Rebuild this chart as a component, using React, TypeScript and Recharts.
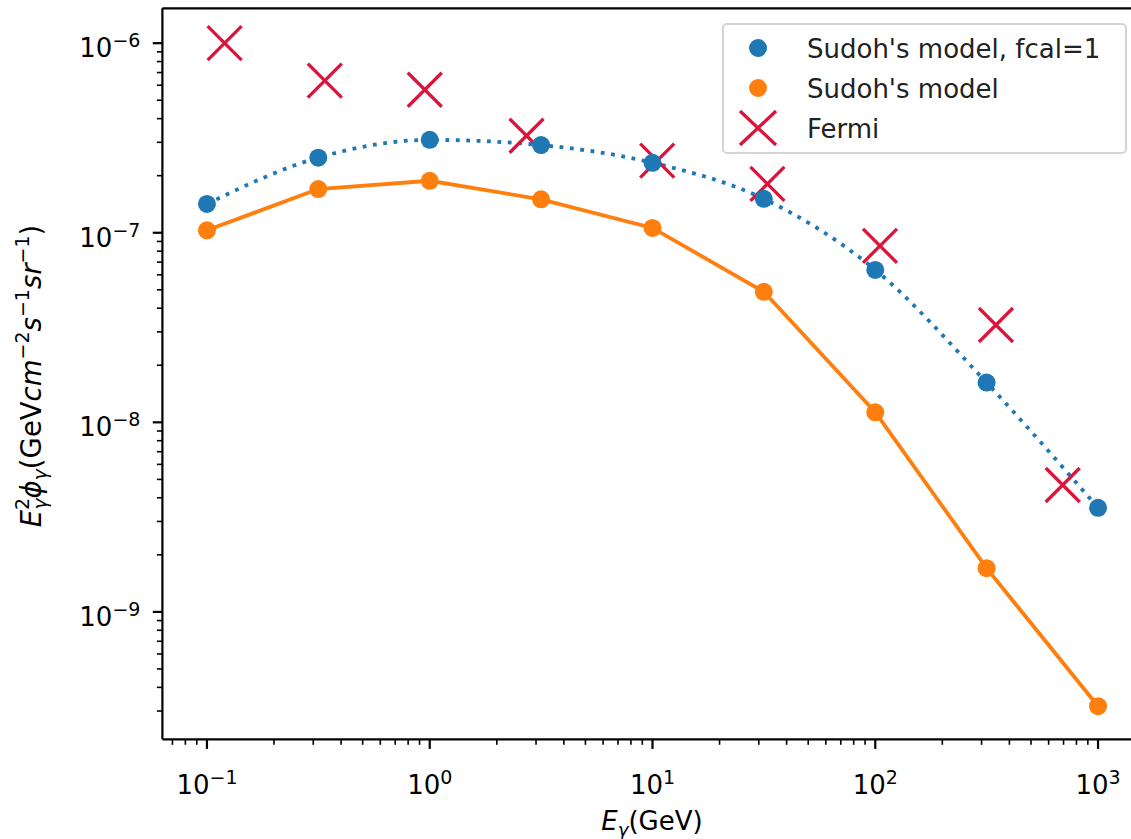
import React from "react";
import {
  ComposedChart,
  Line,
  Scatter,
  XAxis,
  YAxis,
  Legend,
  ReferenceLine,
} from "recharts";

// energies (GeV) of the model points
const energies = [0.1, 0.316, 1, 3.16, 10, 31.6, 100, 316, 1000];
// Sudoh's model, fcal=1
const sudohFcal1 = [1.42e-7, 2.49e-7, 3.09e-7, 2.9e-7, 2.34e-7, 1.51e-7, 6.37e-8, 1.62e-8, 3.54e-9];
// Sudoh's model
const sudoh = [1.03e-7, 1.7e-7, 1.88e-7, 1.5e-7, 1.06e-7, 4.88e-8, 1.13e-8, 1.7e-9, 3.18e-10];
// Fermi points
const fermiEnergies = [0.12, 0.338, 0.95, 2.72, 10.5, 32.8, 105, 348, 694];
const fermiFlux = [1.0e-6, 6.34e-7, 5.68e-7, 3.25e-7, 2.4e-7, 1.81e-7, 8.53e-8, 3.26e-8, 4.67e-9];

const xMajor = [0.1, 1, 10, 100, 1000];
const yMajor = [1e-9, 1e-8, 1e-7, 1e-6];

const X_DOMAIN = [Math.pow(10, -1.2), Math.pow(10, 3.2)];
const Y_DOMAIN = [Math.pow(10, -9.672), Math.pow(10, -5.816)];

const BLUE = "#1f77b4";
const ORANGE = "#ff7f0e";
const RED = "#dc143c";
const FONT = "DejaVu Sans";

const fcalData = energies.map((x, i) => ({ x, y: sudohFcal1[i] }));
const sudohData = energies.map((x, i) => ({ x, y: sudoh[i] }));
const fermiData = fermiEnergies.map((x, i) => ({ x, y: fermiFlux[i] }));

// major + minor log ticks inside a domain
function logTicks(majors: number[], domain: number[]) {
  const out: number[] = [];
  const decades = [majors[0] / 10, ...majors];
  decades.forEach((d) => {
    for (let m = 1; m <= 9; m++) {
      const v = d * m;
      if (v >= domain[0] && v <= domain[1]) out.push(v);
    }
  });
  return out;
}

const xTicks = logTicks(xMajor, X_DOMAIN);
const yTicks = logTicks(yMajor, Y_DOMAIN);

function isMajor(v: number) {
  const lg = Math.log10(v);
  return Math.abs(lg - Math.round(lg)) < 1e-6;
}

function expLabel(v: number) {
  const e = Math.round(Math.log10(v));
  return e < 0 ? `\u2212${-e}` : `${e}`;
}

const XTick = (props: any) => {
  const { x, y, payload } = props;
  const major = isMajor(payload.value);
  return (
    <g>
      <line x1={x} x2={x} y1={y} y2={y + (major ? 9.6 : 5.5)} stroke="#000" strokeWidth={major ? 2.2 : 1.6} />
      {major && (
        <text x={x} y={y + 55} textAnchor="middle" fontSize={26} fontFamily={FONT} fill="#000">
          <tspan>10</tspan>
          <tspan dy={-10} fontSize={19}>{expLabel(payload.value)}</tspan>
        </text>
      )}
    </g>
  );
};

const YTick = (props: any) => {
  const { x, y, payload } = props;
  const major = isMajor(payload.value);
  return (
    <g>
      <line x1={x - (major ? 9.6 : 5.5)} x2={x} y1={y} y2={y} stroke="#000" strokeWidth={major ? 2.2 : 1.6} />
      {major && (
        <text x={x - 22} y={y + 14} textAnchor="end" fontSize={26} fontFamily={FONT} fill="#000">
          <tspan>10</tspan>
          <tspan dy={-10} fontSize={19}>{expLabel(payload.value)}</tspan>
        </text>
      )}
    </g>
  );
};

const CrossShape = (props: any) => {
  const { cx, cy } = props;
  const h = 17;
  return (
    <g stroke={RED} strokeWidth={3.3}>
      <line x1={cx - h} y1={cy - h} x2={cx + h} y2={cy + h} />
      <line x1={cx - h} y1={cy + h} x2={cx + h} y2={cy - h} />
    </g>
  );
};

const XLabel = () => (
  <text x={652} y={830} textAnchor="middle" fontSize={26} fontFamily={FONT} fill="#000">
    <tspan fontStyle="italic">E</tspan>
    <tspan dy={6} fontSize={18} fontStyle="italic">γ</tspan>
    <tspan dy={-6}>(GeV)</tspan>
  </text>
);

const YLabel = () => (
  <text
    transform="translate(41,376) rotate(-90)"
    textAnchor="middle"
    fontSize={27.5}
    fontFamily={FONT}
    fill="#000"
  >
    <tspan fontStyle="italic">E</tspan>
    <tspan dy={-12} fontSize={19}>2</tspan>
    <tspan dx={-12} dy={18} fontSize={19} fontStyle="italic">γ</tspan>
    <tspan dy={-6} fontStyle="italic">ϕ</tspan>
    <tspan dy={6} fontSize={19} fontStyle="italic">γ</tspan>
    <tspan dy={-6}>(GeV</tspan>
    <tspan fontStyle="italic">cm</tspan>
    <tspan dy={-12} fontSize={19}>−2</tspan>
    <tspan dy={12} fontStyle="italic">s</tspan>
    <tspan dy={-12} fontSize={19}>−1</tspan>
    <tspan dy={12} fontStyle="italic">sr</tspan>
    <tspan dy={-12} fontSize={19}>−1</tspan>
    <tspan dy={12}>)</tspan>
  </text>
);

const legendItems = [
  { name: "Sudoh's model, fcal=1", kind: "dot", color: BLUE },
  { name: "Sudoh's model", kind: "dot", color: ORANGE },
  { name: "Fermi", kind: "cross", color: RED },
];

const LegendBox = () => (
  <div
    style={{
      width: 405,
      height: 131,
      boxSizing: "border-box",
      border: "2px solid #d4d4d4",
      borderRadius: 5,
      background: "rgba(255,255,255,0.8)",
    }}
  >
    <svg width={401} height={127} style={{ display: "block" }}>
      {legendItems.map((it, i) => {
        const cy = 23 + i * 40;
        return (
          <g key={it.name}>
            {it.kind === "dot" ? (
              <circle cx={34} cy={cy} r={9} fill={it.color} />
            ) : (
              <g stroke={it.color} strokeWidth={3.3}>
                <line x1={16} y1={cy - 17} x2={52} y2={cy + 17} />
                <line x1={16} y1={cy + 17} x2={52} y2={cy - 17} />
              </g>
            )}
            <text x={83} y={cy + 9.5} fontSize={26} fontFamily={FONT} fill="#222">
              {it.name}
            </text>
          </g>
        );
      })}
    </svg>
  </div>
);

export default function App() {
  return (
    <div style={{ position: "absolute", left: 0, top: 0, width: 1131, height: 839, overflow: "hidden", background: "#fff" }}>
      <ComposedChart
        width={1150}
        height={839}
        margin={{ top: 8.3, right: 7.4, bottom: 0, left: 0 }}
      >
        <XAxis
          dataKey="x"
          type="number"
          scale="log"
          domain={X_DOMAIN}
          allowDataOverflow
          ticks={xTicks}
          interval={0}
          tick={<XTick />}
          tickLine={false}
          tickSize={0}
          tickMargin={0}
          height={99.7}
          axisLine={{ stroke: "#000", strokeWidth: 2.2 }}
          label={<XLabel />}
        />
        <YAxis
          dataKey="y"
          type="number"
          scale="log"
          domain={Y_DOMAIN}
          allowDataOverflow
          ticks={yTicks}
          interval={0}
          tick={<YTick />}
          tickLine={false}
          tickSize={0}
          tickMargin={0}
          width={162.4}
          axisLine={{ stroke: "#000", strokeWidth: 2.2 }}
          label={<YLabel />}
        />
        <ReferenceLine y={Y_DOMAIN[1]} stroke="#000" strokeWidth={2.2} />
        <ReferenceLine x={X_DOMAIN[1]} stroke="#000" strokeWidth={2.2} />
        <Line
          data={fcalData}
          dataKey="y"
          type="monotone"
          stroke={BLUE}
          strokeWidth={3.8}
          strokeDasharray="3.8 6.6"
          dot={{ r: 9, fill: BLUE, stroke: "none" }}
          activeDot={false}
          isAnimationActive={false}
        />
        <Line
          data={sudohData}
          dataKey="y"
          type="linear"
          stroke={ORANGE}
          strokeWidth={3.8}
          dot={{ r: 9, fill: ORANGE, stroke: "none" }}
          activeDot={false}
          isAnimationActive={false}
        />
        <Scatter data={fermiData} dataKey="y" shape={<CrossShape />} isAnimationActive={false} />
        <Legend
          layout="horizontal"
          verticalAlign="middle"
          align="center"
          content={() => <LegendBox />}
          wrapperStyle={{ position: "absolute", left: 722, top: 23, width: 405, height: 131 }}
        />
      </ComposedChart>
    </div>
  );
}
